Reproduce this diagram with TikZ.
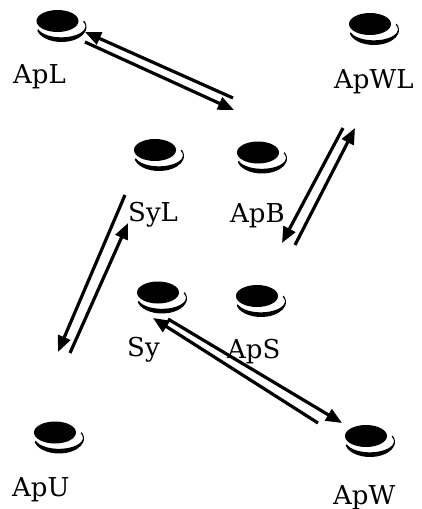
\documentclass[tikz,border=0pt]{standalone}
\usepackage{fontspec}
\setmainfont{DejaVu Serif}
\usetikzlibrary{arrows.meta,shapes.geometric}
\begin{document}
\begin{tikzpicture}[x=1pt,y=-1pt,
  disc/.style={ellipse,fill=black,minimum width=42pt,minimum height=22pt,inner sep=0pt},
  lbl/.style={anchor=base west,inner sep=0pt,font=\fontsize{26}{30}\selectfont},
  arr/.style={line width=3.2pt,-{Triangle[length=16pt,width=13pt]}}]
\useasboundingbox (0,0) rectangle (422,509);

% discs
\node[disc] (ApL)  at (57.5,21)  {};
\node[disc] (ApWL) at (370,24)   {};
\node[disc] (SyL)  at (155,150)  {};
\node[disc] (ApB)  at (258,152.5){};
\node[disc] (Sy)   at (158,292.5){};
\node[disc] (ApS)  at (257,296)  {};
\node[disc] (ApW)  at (366,436)  {};
\node[disc] (ApU)  at (55,432.5) {};

% rim under each disc
\foreach \n in {ApL,ApWL,SyL,ApB,Sy,ApS,ApW,ApU}{
  \fill[shift={(\n.center)}] (4,6) ++(165:25 and 15)
     arc[start angle=165,end angle=-25,x radius=25,y radius=15]
     -- ++(-1,1)
     arc[start angle=-25,end angle=165,x radius=24,y radius=11] -- cycle;
}

% labels
\node[lbl] (tApL)  at (13,83)   {ApL};
\node[lbl] (tApWL) at (334,88)  {ApWL};
\node[lbl] (tSyL)  at (128,221) {SyL};
\node[lbl] (tApB)  at (230,222) {ApB};
\node[lbl] (tSy)   at (127,356) {Sy};
\node[lbl] (tApS)  at (227,358) {ApS};
\node[lbl] (tApW)  at (333,504) {ApW};
\node[lbl] (tApU)  at (12,496)  {ApU};

% connector ends
\coordinate (c1a) at (85,32);   \coordinate (c1b) at (233,98);
\coordinate (c1c) at (85,42);   \coordinate (c1d) at (234,110);
\coordinate (c2a) at (343,128); \coordinate (c2b) at (282,243);
\coordinate (c2c) at (295,245); \coordinate (c2d) at (355,128);
\coordinate (c3a) at (125,195); \coordinate (c3b) at (58,352);
\coordinate (c3c) at (70,353);  \coordinate (c3d) at (128,223);
\coordinate (c4a) at (168,319); \coordinate (c4b) at (342,423);
\coordinate (c4c) at (318,423); \coordinate (c4d) at (153,318);

% paired arrows
\draw[arr] (c1b) -- (c1a);
\draw[arr] (c1c) -- (c1d);
\draw[arr] (c2a) -- (c2b);
\draw[arr] (c2c) -- (c2d);
\draw[arr] (c3a) -- (c3b);
\draw[arr] (c3c) -- (c3d);
\draw[arr] (c4a) -- (c4b);
\draw[arr] (c4c) -- (c4d);
\end{tikzpicture}
\end{document}
